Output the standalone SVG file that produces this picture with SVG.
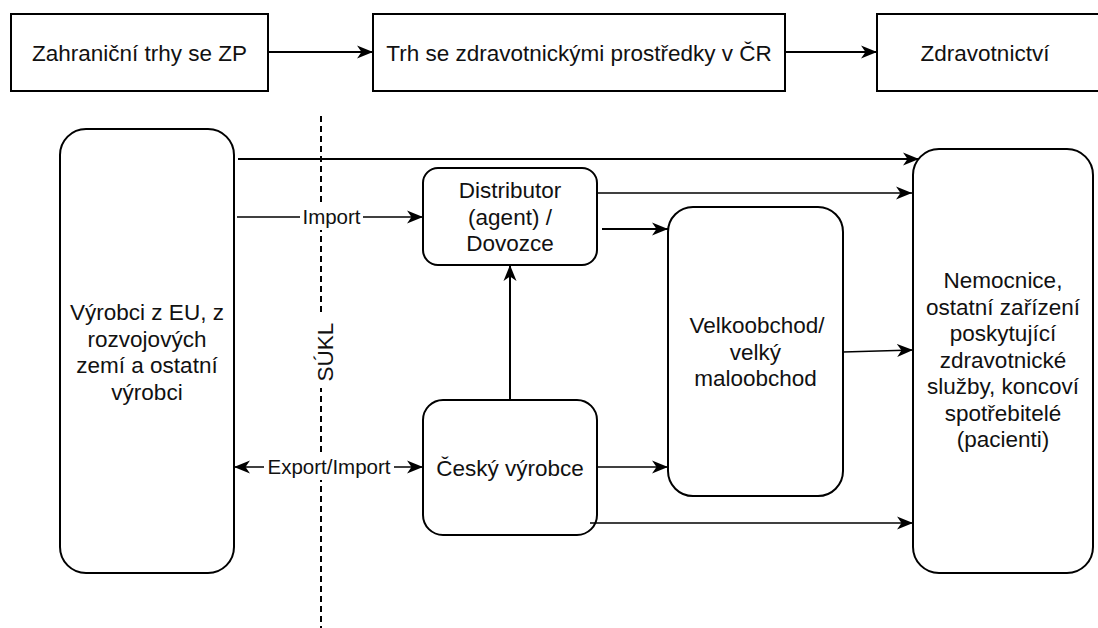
<svg xmlns="http://www.w3.org/2000/svg" width="1098" height="628" viewBox="0 0 1098 628">
<style>
.box{fill:#fff;stroke:#000;stroke-width:2}
.t{font-family:"Liberation Sans",Arial,sans-serif;font-size:22.5px;fill:#111;text-anchor:middle}
.lbl{font-family:"Liberation Sans",Arial,sans-serif;font-size:20.5px;fill:#111;text-anchor:middle}
.c{fill:none;stroke:#000;stroke-width:2}
.cn{fill:none;stroke:#000;stroke-width:1.5}
</style>
<defs>
<marker id="ah" markerUnits="userSpaceOnUse" markerWidth="17" markerHeight="15" refX="16" refY="7" orient="auto-start-reverse" viewBox="0 0 17 14">
<path d="M0,0.5 L16,7 L0,13.5 L4.5,7 Z" fill="#000"/>
</marker>
</defs>
<rect width="1098" height="628" fill="#fff"/>
<g id="top1"><rect class="box" x="11" y="14" width="257" height="77"/><text class="t" x="139.5" y="60.5">Zahraniční trhy se ZP</text></g>
<g id="top2"><rect class="box" x="373" y="14" width="412" height="77"/><text class="t" x="579" y="60.5">Trh se zdravotnickými prostředky v ČR</text></g>
<g id="top3"><rect class="box" x="877" y="14" width="240" height="77"/><text class="t" x="985" y="60.5">Zdravotnictví</text></g>
<g id="sukl">
<line x1="321" y1="116" x2="321" y2="628" stroke="#000" stroke-width="2" stroke-dasharray="6 4"/>
<rect x="313" y="316" width="23" height="72" fill="#fff"/>
<text class="t" transform="translate(333,352) rotate(-90)" x="0" y="0">SÚKL</text>
</g>
<g id="vyrobci"><rect class="box" x="60" y="129" width="174" height="444" rx="26"/>
<text class="t" x="147" y="320">Výrobci z EU, z</text>
<text class="t" x="147" y="346.5">rozvojových</text>
<text class="t" x="147" y="373">zemí a ostatní</text>
<text class="t" x="147" y="399.5">výrobci</text></g>
<g id="distributor"><rect class="box" x="423" y="168" width="174" height="97" rx="15"/>
<text class="t" x="510" y="198">Distributor</text>
<text class="t" x="510" y="224.5">(agent) /</text>
<text class="t" x="510" y="251">Dovozce</text></g>
<g id="velkoobchod"><rect class="box" x="668" y="207" width="175" height="289" rx="25"/>
<text class="t" x="757" y="333">Velkoobchod/</text>
<text class="t" x="755.5" y="359.5">velký</text>
<text class="t" x="755.5" y="386">maloobchod</text></g>
<g id="cesky"><rect class="box" x="423" y="400" width="174" height="135" rx="20"/>
<text class="t" x="510" y="475.5">Český výrobce</text></g>
<g id="nemocnice"><rect class="box" x="913" y="149" width="180" height="424" rx="26"/>
<text class="t" x="1003" y="288">Nemocnice,</text>
<text class="t" x="1003" y="314.5">ostatní zařízení</text>
<text class="t" x="1003" y="341">poskytující</text>
<text class="t" x="1003" y="367.5">zdravotnické</text>
<text class="t" x="1003" y="394">služby, koncoví</text>
<text class="t" x="1003" y="420.5">spotřebitelé</text>
<text class="t" x="1003" y="447">(pacienti)</text></g>
<g id="connectors">
<line class="c" x1="268" y1="52" x2="373" y2="52" marker-end="url(#ah)"/>
<line class="c" x1="785" y1="52" x2="877" y2="52" marker-end="url(#ah)"/>
<line class="c" x1="238" y1="159" x2="919" y2="159" marker-end="url(#ah)"/>
<line class="cn" x1="237" y1="217" x2="423" y2="217" marker-end="url(#ah)"/>
<rect x="300" y="204" width="63" height="26" fill="#fff"/>
<text class="lbl" x="331.5" y="224">Import</text>
<line class="cn" x1="597" y1="193" x2="912" y2="193" marker-end="url(#ah)"/>
<line class="c" x1="602" y1="229" x2="668" y2="229" marker-end="url(#ah)"/>
<line class="c" x1="510" y1="400" x2="510" y2="265" marker-end="url(#ah)"/>
<line class="cn" x1="234" y1="467" x2="423" y2="467" marker-start="url(#ah)" marker-end="url(#ah)"/>
<rect x="264" y="454" width="130" height="26" fill="#fff"/>
<text class="lbl" x="329" y="474">Export/Import</text>
<line class="cn" x1="597" y1="467" x2="668" y2="467" marker-end="url(#ah)"/>
<line class="cn" x1="590" y1="523" x2="913" y2="523" marker-end="url(#ah)"/>
<line class="cn" x1="843" y1="352" x2="913" y2="350" marker-end="url(#ah)"/>
</g>
</svg>
